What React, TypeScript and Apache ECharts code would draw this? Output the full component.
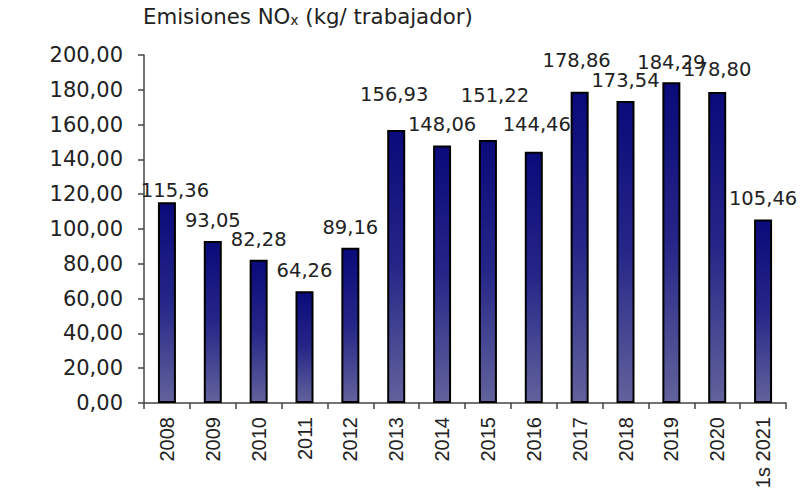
import React, { useEffect, useRef } from "react";
import * as echarts from "echarts";

const categories = ["2008", "2009", "2010", "2011", "2012", "2013", "2014", "2015", "2016", "2017", "2018", "2019", "2020", "1s 2021"];
const values = [115.36, 93.05, 82.28, 64.26, 89.16, 156.93, 148.06, 151.22, 144.46, 178.86, 173.54, 184.29, 178.8, 105.46];
const yMin = 0;
const yMax = 200;
const yStep = 20;
// label nudges (px) to mimic the original placement
const labelOffsets = [[8, 9], [0, 0], [0, 1], [0, 0], [0, 1], [-2, -14], [0, 0], [7, -23], [3, -6], [-3, -10], [0, 0], [0, 1], [0, -1], [0, 0]];

const fmt = (v: number) => v.toFixed(2).replace(".", ",");

export default function App() {
  const ref = useRef<HTMLDivElement>(null);
  useEffect(() => {
    if (!ref.current) return;
    const chart = echarts.init(ref.current, null, { renderer: "svg" });
    const font = "'DejaVu Sans', Verdana, sans-serif";
    chart.setOption({
      animation: false,
      backgroundColor: "#ffffff",
      title: {
        left: 143,
        top: 0,
        padding: 0,
        text: "{a|Emisiones NO}{s|x}{a| (kg/ trabajador)}",
        textStyle: {
          fontWeight: "normal",
          rich: {
            a: { fontFamily: font, fontSize: 21.3, fontWeight: "normal", color: "#222222", lineHeight: 27, verticalAlign: "bottom" },
            s: { fontFamily: font, fontSize: 14, fontWeight: "normal", color: "#222222", lineHeight: 14, verticalAlign: "bottom" },
          },
        },
      },
      grid: { left: 144, right: 26, top: 55, bottom: 99, containLabel: false },
      xAxis: {
        type: "category",
        data: categories,
        axisLine: { lineStyle: { color: "#444444", width: 1.5 } },
        axisTick: { show: true, length: 6, lineStyle: { color: "#444444", width: 1.5 } },
        axisLabel: {
          rotate: 90,
          interval: 0,
          margin: 14,
          fontFamily: "'Liberation Sans', Arial, sans-serif",
          fontSize: 20,
          color: "#222222",
        },
      },
      yAxis: {
        type: "value",
        min: yMin,
        max: yMax,
        interval: yStep,
        splitLine: { show: false },
        axisLine: { show: true, lineStyle: { color: "#444444", width: 1.5 } },
        axisTick: { show: true, length: 6, lineStyle: { color: "#444444", width: 1.5 } },
        axisLabel: {
          margin: 21,
          fontFamily: font,
          fontSize: 21,
          color: "#222222",
          formatter: (v: number) => fmt(v),
        },
      },
      series: [
        {
          type: "bar",
          barWidth: 18,
          data: values.map((v, i) => ({
            value: v,
            label: { offset: labelOffsets[i] },
          })),
          itemStyle: {
            borderColor: "#000000",
            borderWidth: 2,
            color: new echarts.graphic.LinearGradient(0, 0, 0, 1, [
              { offset: 0, color: "#0a0a7a" },
              { offset: 0.5, color: "#262688" },
              { offset: 1, color: "#62629c" },
            ]),
          },
          label: {
            show: true,
            position: "top",
            distance: 11,
            fontFamily: font,
            fontSize: 19.5,
            color: "#222222",
            formatter: (p: any) => fmt(p.value),
          },
        },
      ],
    });
    return () => chart.dispose();
  }, []);
  return <div ref={ref} style={{ position: "fixed", left: 0, top: 0, width: 812, height: 502 }} />;
}
